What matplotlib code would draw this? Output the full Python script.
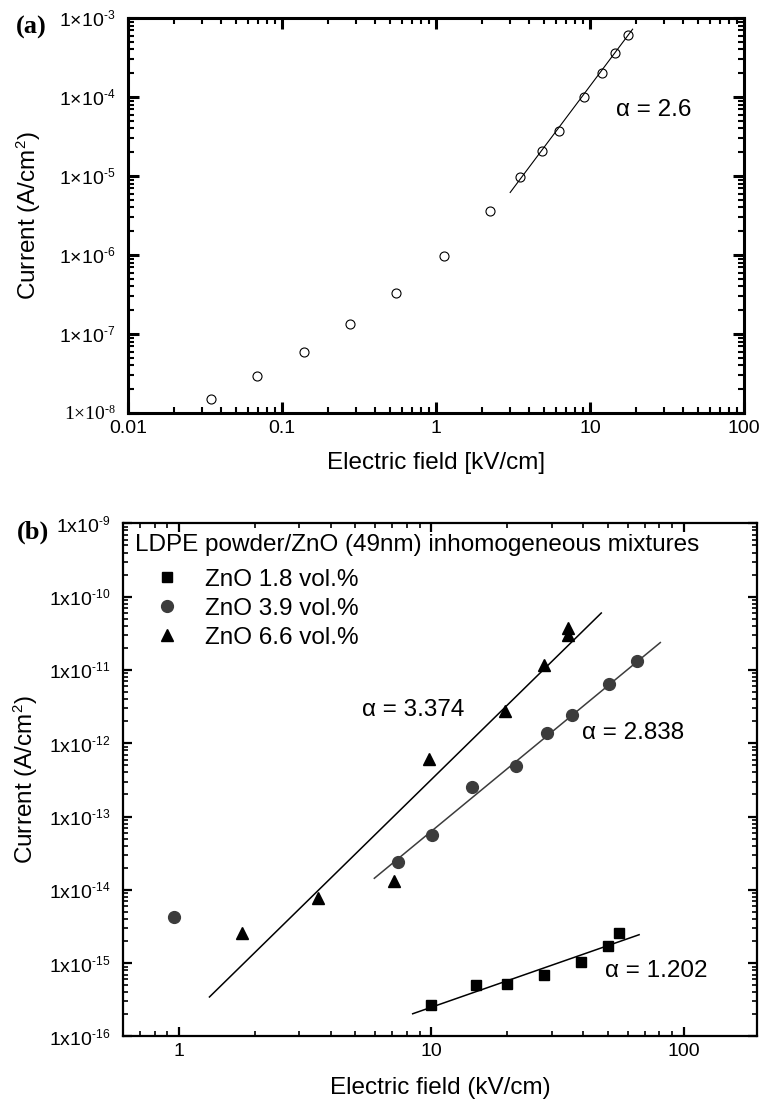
import numpy as np
import matplotlib
matplotlib.use('Agg')
import matplotlib.pyplot as plt
from matplotlib.ticker import FixedLocator, LogLocator, NullFormatter, FuncFormatter
try:
    import matplotlib._mathtext as _mt
    _mt.SHRINK_FACTOR = 0.62
except Exception:
    pass

plt.rcParams['font.family'] = ['Liberation Sans', 'DejaVu Sans']
plt.rcParams['mathtext.default'] = 'regular'

# ---------------- data: panel (a) ----------------
field_a = [0.0347, 0.0689, 0.138, 0.276, 0.553, 1.12, 2.25,
           3.50, 4.88, 6.33, 9.10, 11.9, 14.6, 17.6]
current_a = [1.49e-8, 2.97e-8, 5.97e-8, 1.32e-7, 3.3e-7, 9.7e-7, 3.58e-6,
             9.6e-6, 2.08e-5, 3.76e-5, 1.0e-4, 2.02e-4, 3.59e-4, 6.16e-4]
alpha_a = 2.6
log_prefactor_a = -6.46
fit_range_a = [3.03, 18.9]
xticks_a = [0.01, 0.1, 1, 10, 100]
xticklabels_a = ['0.01', '0.1', '1', '10', '100']
yticks_a = [1e-8, 1e-7, 1e-6, 1e-5, 1e-4, 1e-3]

# ---------------- data: panel (b) ----------------
legend_title = 'LDPE powder/ZnO (49nm) inhomogeneous mixtures'
series_labels = ['ZnO 1.8 vol.%', 'ZnO 3.9 vol.%', 'ZnO 6.6 vol.%']
field_18 = [10.0, 15.0, 20.0, 27.9, 39.2, 50.1, 55.6]
current_18 = [2.65e-16, 4.97e-16, 5.24e-16, 7.0e-16, 1.05e-15, 1.73e-15, 2.62e-15]
field_39 = [0.954, 7.39, 10.05, 14.5, 21.6, 28.8, 36.0, 50.6, 65.0]
current_39 = [4.25e-15, 2.42e-14, 5.63e-14, 2.52e-13, 4.92e-13, 1.40e-12,
              2.41e-12, 6.52e-12, 1.33e-11]
field_66 = [1.77, 3.56, 7.14, 9.79, 19.6, 27.9, 34.7, 34.7]
current_66 = [2.62e-15, 7.71e-15, 1.34e-14, 6.18e-13, 2.79e-12, 1.16e-11,
              2.98e-11, 3.71e-11]
alpha_b = [1.202, 2.838, 3.374]
log_prefactor_b = [-16.803, -16.038, -15.868]
fit_range_b = [(8.43, 66.5), (5.94, 80.7), (1.32, 47.1)]
xticks_b = [1, 10, 100]
xticklabels_b = ['1', '10', '100']
yticks_b = [1e-16, 1e-15, 1e-14, 1e-13, 1e-12, 1e-11, 1e-10, 1e-9]

# ---------------- figure ----------------
fig = plt.figure(figsize=(7.68, 10.99), dpi=100)
axa = fig.add_axes([0.1667, 0.6242, 0.9688 - 0.1667, 0.9836 - 0.6242])
axb = fig.add_axes([0.1602, 0.0569, 0.9857 - 0.1602, 0.5238 - 0.0569])

FS = 17.5


def exp_label(prefix):
    def fmt(v, p):
        e = int(round(np.log10(v)))
        sign = '\u2010' if e < 0 else ''
        return prefix + '$^{' + sign + str(abs(e)) + '}$'
    return FuncFormatter(fmt)


def style_axes(ax, spine_w, maj_len, maj_w, min_len, min_w):
    ax.set_xscale('log')
    ax.set_yscale('log')
    for s in ax.spines.values():
        s.set_linewidth(spine_w)
    ax.tick_params(which='both', direction='in', top=True, right=True)
    ax.tick_params(which='major', length=maj_len, width=maj_w)
    ax.tick_params(which='minor', length=min_len, width=min_w)
    ax.tick_params(axis='y', which='major', pad=9, labelsize=14)
    ax.tick_params(axis='x', which='major', pad=5, labelsize=14)
    ax.xaxis.set_minor_locator(LogLocator(base=10, subs=np.arange(2, 10), numticks=50))
    ax.yaxis.set_minor_locator(LogLocator(base=10, subs=np.arange(2, 10), numticks=50))
    ax.xaxis.set_minor_formatter(NullFormatter())
    ax.yaxis.set_minor_formatter(NullFormatter())


# ---- panel (a) ----
style_axes(axa, 2.2, 8, 2.2, 4.5, 1.5)
axa.set_xlim(0.01, 100)
axa.set_ylim(1e-8, 1e-3)
axa.plot(field_a, current_a, linestyle='none', marker='o', markersize=6.5,
         markerfacecolor='white', markeredgecolor='black', markeredgewidth=0.8)
xf = np.array(fit_range_a)
axa.plot(xf, 10 ** log_prefactor_a * xf ** alpha_a, color='black', lw=0.8)
axa.xaxis.set_major_locator(FixedLocator(xticks_a))
axa.set_xticklabels(xticklabels_a)
axa.yaxis.set_major_locator(FixedLocator(yticks_a))
axa.yaxis.set_major_formatter(exp_label('1\u00d710'))
for lab in axa.get_yticklabels():
    if lab.get_text().endswith('8}$'):
        lab.set_family(['Liberation Serif'])
axa.set_xlabel('Electric field [kV/cm]', fontsize=FS, labelpad=11)
axa.set_ylabel('Current (A/cm$^{2}$)', fontsize=FS)
axa.yaxis.set_label_coords(-0.138, 0.5)
axa.text(14.7, 6.9e-5, '\u03b1 = 2.6', fontsize=FS, ha='left', va='center')
fig.text(0.021, 1 - 27.5 / 1099, '(a)', fontsize=19, fontweight='bold',
         family=['Liberation Serif'], ha='left', va='center')

# ---- panel (b) ----
style_axes(axb, 1.6, 6.5, 1.6, 3.5, 1.2)
axb.set_xlim(0.6, 195)
axb.set_ylim(1e-16, 1e-9)
m18, = axb.plot(field_18, current_18, linestyle='none', marker='s', markersize=7,
                color='black')
m39, = axb.plot(field_39, current_39, linestyle='none', marker='o', markersize=8.5,
                color='#3c3c3c')
m66, = axb.plot(field_66, current_66, linestyle='none', marker='^', markersize=9,
                color='black')
line_colors = ['black', '#3c3c3c', 'black']
for a, lp, rng, c in zip(alpha_b, log_prefactor_b, fit_range_b, line_colors):
    xf = np.array(rng)
    axb.plot(xf, 10 ** lp * xf ** a, color=c, lw=1.1)
axb.xaxis.set_major_locator(FixedLocator(xticks_b))
axb.set_xticklabels(xticklabels_b)
axb.yaxis.set_major_locator(FixedLocator(yticks_b))
axb.yaxis.set_major_formatter(exp_label('1x10'))
axb.set_xlabel('Electric field (kV/cm)', fontsize=FS, labelpad=12)
axb.set_ylabel('Current (A/cm$^{2}$)', fontsize=FS)
axb.yaxis.set_label_coords(-0.131, 0.5)
axb.text(5.31, 2.85e-12, '\u03b1 = 3.374', fontsize=FS, ha='left', va='center')
axb.text(39.5, 1.37e-12, '\u03b1 = 2.838', fontsize=FS, ha='left', va='center')
axb.text(48.6, 7.7e-16, '\u03b1 = 1.202', fontsize=FS, ha='left', va='center')
axb.text(0.019, 0.9580, legend_title, fontsize=FS, ha='left', va='center',
         transform=axb.transAxes)
leg = axb.legend([m18, m39, m66], series_labels,
                 loc='upper left', bbox_to_anchor=(0.0502, 0.9115), frameon=False,
                 fontsize=FS, borderaxespad=0.0, borderpad=0.0,
                 handletextpad=1.06, labelspacing=0.29, handlelength=1.0)
fig.text(0.022, 1 - 532 / 1099, '(b)', fontsize=19, fontweight='bold',
         family=['Liberation Serif'], ha='left', va='center')

fig.savefig('out.png', dpi=100)
